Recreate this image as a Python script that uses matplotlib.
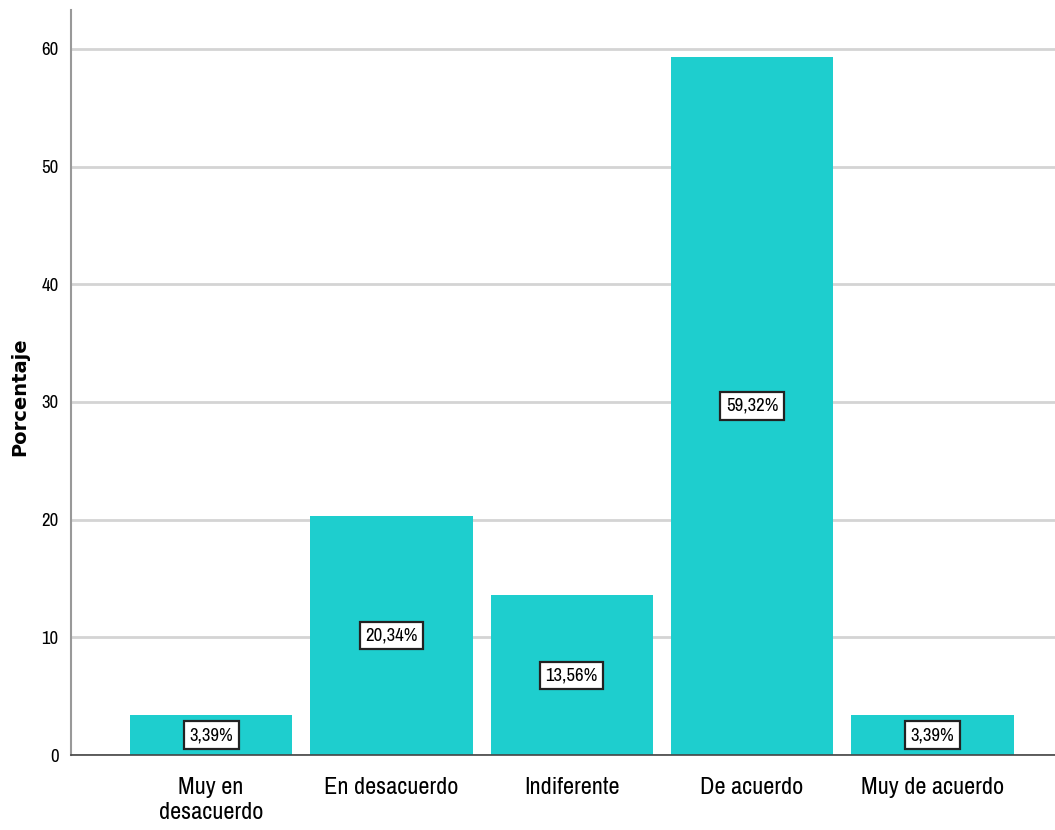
import matplotlib
matplotlib.use("Agg")
import matplotlib.pyplot as plt

categories = ["Muy en\ndesacuerdo", "En desacuerdo", "Indiferente", "De acuerdo", "Muy de acuerdo"]
percentages = [3.39, 20.34, 13.56, 59.32, 3.39]
y_ticks = [0, 10, 20, 30, 40, 50, 60]

plt.rcParams["font.family"] = ["Archivo Narrow", "DejaVu Sans"]

bar_color = "#1ECECE"

fig = plt.figure(figsize=(10.55, 8.3), dpi=100)
ax = fig.add_axes([71 / 1055, 75 / 830, 1 - 71 / 1055, (755 - 10) / 830])

x = list(range(len(categories)))
ax.set_axisbelow(True)
ax.grid(axis="y", color="#d4d4d4", linewidth=2)
ax.bar(x, percentages, width=0.9, color=bar_color, zorder=2)

for xi, v in zip(x, percentages):
    label = f"{v:.2f}%".replace(".", ",")
    ax.text(xi, v / 2, label, ha="center", va="center", fontsize=13.5, color="black", zorder=3,
            bbox=dict(boxstyle="square,pad=0.3", facecolor="white", edgecolor="#222222", linewidth=1.6))

ax.set_xlim(-0.777, 4.68)
ax.set_ylim(0, 63.3)
ax.set_yticks(y_ticks)
ax.set_yticklabels([str(t) for t in y_ticks], fontsize=13.5)
ax.set_xticks(x)
ax.set_xticklabels(categories, fontsize=17.5, linespacing=1.2)
ax.tick_params(axis="x", length=0, pad=16)
ax.tick_params(axis="y", length=0, pad=9)

for side in ["top", "right"]:
    ax.spines[side].set_visible(False)
ax.spines["left"].set_color("#999999")
ax.spines["left"].set_linewidth(1.5)
ax.spines["bottom"].set_color("#444444")
ax.spines["bottom"].set_linewidth(1.2)

fig.text(20 / 1055, (830 - 397) / 830, "Porcentaje", rotation=90, ha="center", va="center",
         fontsize=14, fontweight="bold", family=["DejaVu Sans"])

fig.savefig("out.png", dpi=100)
